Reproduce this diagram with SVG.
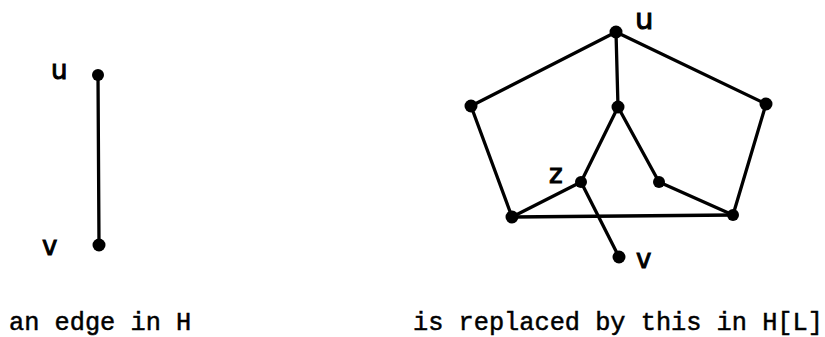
<svg xmlns="http://www.w3.org/2000/svg" width="825" height="337" viewBox="0 0 825 337">
<style>
.e{stroke:#000;stroke-width:3.3;stroke-linecap:round;fill:none}
.n{fill:#000}
.lbl{font-family:"DejaVu Sans","Liberation Sans",sans-serif;font-size:26px;fill:#000;stroke:#000;stroke-width:1}
.cap{font-family:"Liberation Mono","DejaVu Sans Mono",monospace;font-size:25.3px;fill:#000;stroke:#000;stroke-width:0.5}
</style>
<rect width="825" height="337" fill="#fff"/>
<g id="connectors">
<line class="e" x1="98" y1="75" x2="99" y2="245"/>
<line class="e" x1="616" y1="32" x2="471" y2="106"/>
<line class="e" x1="616" y1="32" x2="766" y2="104"/>
<line class="e" x1="616" y1="32" x2="618" y2="107"/>
<line class="e" x1="471" y1="106" x2="512" y2="217"/>
<line class="e" x1="766" y1="104" x2="733" y2="215"/>
<line class="e" x1="512" y1="217" x2="733" y2="215"/>
<line class="e" x1="618" y1="107" x2="581" y2="182"/>
<line class="e" x1="618" y1="107" x2="659" y2="182"/>
<line class="e" x1="659" y1="182" x2="733" y2="215"/>
<line class="e" x1="581" y1="182" x2="512" y2="217"/>
<line class="e" x1="581" y1="182" x2="619" y2="257"/>
</g>
<g id="left-u"><circle class="n" cx="98" cy="75" r="6"/><text class="lbl" x="51" y="79">u</text></g>
<g id="left-v"><circle class="n" cx="99" cy="245" r="6.5"/><text class="lbl" x="42" y="255">v</text></g>
<g id="u"><circle class="n" cx="616" cy="32" r="6.5"/><text class="lbl" x="635" y="29" style="font-size:29px">u</text></g>
<g id="L"><circle class="n" cx="471" cy="106" r="6.5"/></g>
<g id="R"><circle class="n" cx="766" cy="104" r="6.5"/></g>
<g id="C"><circle class="n" cx="618" cy="107" r="6.5"/></g>
<g id="z"><circle class="n" cx="581" cy="182" r="6"/><text class="lbl" x="549" y="183">z</text></g>
<g id="IR"><circle class="n" cx="659" cy="182" r="6"/></g>
<g id="BL"><circle class="n" cx="512" cy="217" r="6.5"/></g>
<g id="BR"><circle class="n" cx="733" cy="215" r="6"/></g>
<g id="v"><circle class="n" cx="619" cy="257" r="6.5"/><text class="lbl" x="636" y="268">v</text></g>
<g id="captions">
<text class="cap" x="9" y="329.5">an edge in H</text>
<text class="cap" x="413" y="329.5">is replaced by this in H[L]</text>
</g>
</svg>
